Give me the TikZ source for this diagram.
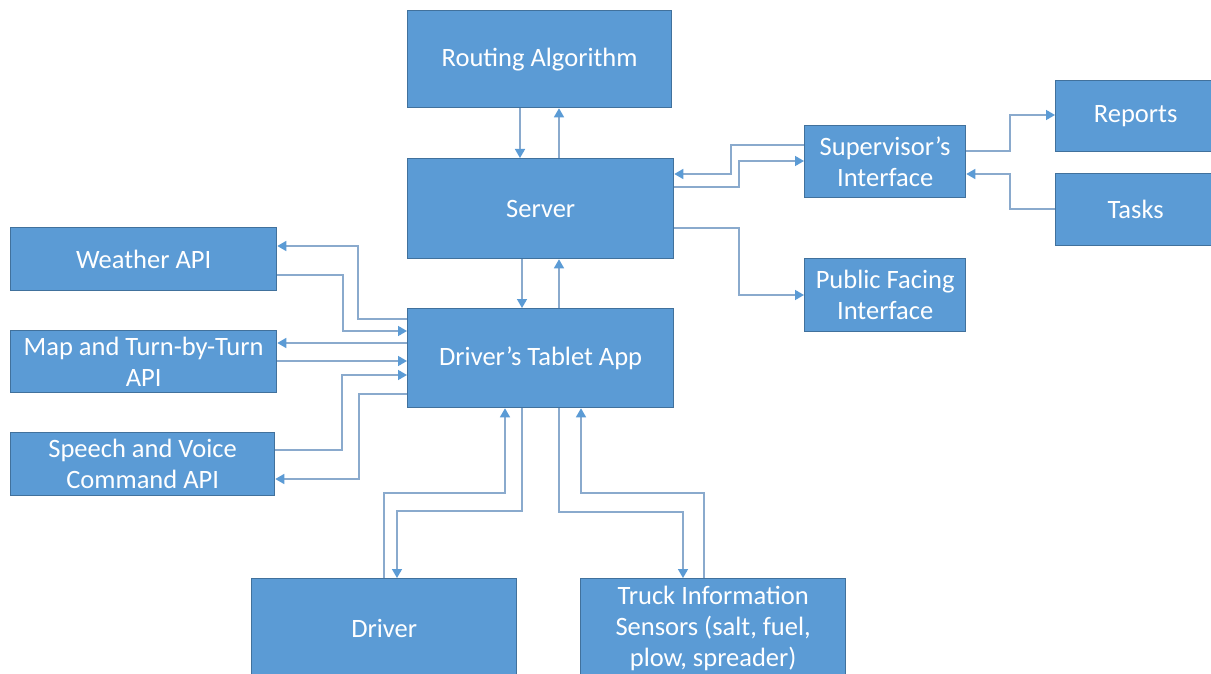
\documentclass[tikz,border=0pt]{standalone}
\usepackage{fontspec}
\setmainfont{Carlito}
\usetikzlibrary{arrows.meta}
\definecolor{boxfill}{HTML}{5B9BD5}
\definecolor{boxedge}{HTML}{41719C}
\definecolor{conn}{HTML}{8AAACD}
\definecolor{tipc}{HTML}{5B9BD5}
\tikzset{
  box/.style={draw=boxedge, line width=1.3pt, fill=boxfill, text=white, anchor=north west,
    inner sep=0pt, align=center, font=\fontsize{26.5}{31}\selectfont},
  link/.style={draw=conn, line width=1.5pt, -{Triangle[length=9pt,width=10pt,color=tipc]}},
}
\begin{document}
\begin{tikzpicture}[x=1pt,y=-1pt]
\clip (0,0) rectangle (1211,674);
\useasboundingbox (0,0) rectangle (1211,674);
\fill[white] (0,0) rectangle (1211,674);
% nodes
\node[box, minimum width=264pt, minimum height=97pt] (route) at (407,10) {Routing Algorithm};
\node[box, minimum width=266pt, minimum height=100pt] (srv) at (407,158) {Server};
\node[box, minimum width=161pt, minimum height=72pt] (sup) at (804,125) {Supervisor’s\\Interface};
\node[box, minimum width=170pt, minimum height=71pt] (rep) at (1055,80) {\hspace*{-10pt}Reports};
\node[box, minimum width=170pt, minimum height=72pt] (task) at (1055,173) {\hspace*{-10pt}Tasks};
\node[box, minimum width=161pt, minimum height=73pt] (pub) at (804,258) {Public Facing\\Interface};
\node[box, minimum width=266pt, minimum height=63pt] (wea) at (10,227) {Weather API};
\node[box, minimum width=266pt, minimum height=62pt] (map) at (10,330) {Map and Turn-by-Turn\\API};
\node[box, minimum width=264pt, minimum height=63pt] (spe) at (10,432) {Speech and Voice\\Command API};
\node[box, minimum width=266pt, minimum height=99pt] (app) at (407,308) {Driver’s Tablet App};
\node[box, minimum width=265pt, minimum height=100pt] (drv) at (251,578) {Driver};
\node[box, minimum width=265pt, minimum height=100pt] (trk) at (580,578) {Truck Information\\Sensors (salt, fuel,\\plow, spreader)};
% routing <-> server
\draw[link] (route.south -| 520,0) -- (srv.north -| 520,0);
\draw[link] (srv.north -| 559,0) -- (route.south -| 559,0);
% server <-> app
\draw[link] (srv.south -| 522,0) -- (app.north -| 522,0);
\draw[link] (app.north -| 559,0) -- (srv.south -| 559,0);
% server <-> supervisor
\draw[link] (sup.west |- 0,145) -| (731,174) -- (srv.east |- 0,174);
\draw[link] (srv.east |- 0,187) -| (739,161) -- (sup.west |- 0,161);
% supervisor <-> reports / tasks
\draw[link] (sup.east |- 0,151) -| (1010,115) -- (rep.west |- 0,115);
\draw[link] (task.west |- 0,209) -| (1010,174) -- (sup.east |- 0,174);
% server -> public
\draw[link] (srv.east |- 0,228) -| (739,295) -- (pub.west |- 0,295);
% app <-> weather
\draw[link] (app.west |- 0,319) -| (358,246) -- (wea.east |- 0,246);
\draw[link] (wea.east |- 0,275) -| (343,331) -- (app.west |- 0,331);
% app <-> map
\draw[link] (app.west |- 0,343) -- (map.east |- 0,343);
\draw[link] (map.east |- 0,361) -- (app.west |- 0,361);
% app <-> speech
\draw[link] (spe.east |- 0,450) -| (342,375) -- (app.west |- 0,375);
\draw[link] (app.west |- 0,394) -| (359,479) -- (spe.east |- 0,479);
% app <-> driver
\draw[link] (drv.north -| 384,0) |- (505,493) -- (app.south -| 505,0);
\draw[link] (app.south -| 522,0) |- (397,511) -- (drv.north -| 397,0);
% app <-> truck
\draw[link] (app.south -| 559,0) |- (683,512) -- (trk.north -| 683,0);
\draw[link] (trk.north -| 704,0) |- (581,493) -- (app.south -| 581,0);
\end{tikzpicture}
\end{document}
